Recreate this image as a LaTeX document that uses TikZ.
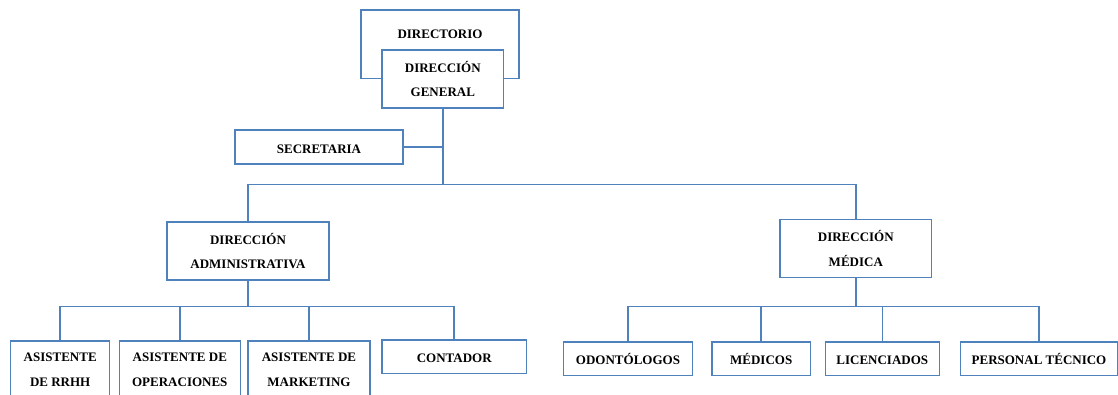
\documentclass[tikz,border=0pt]{standalone}
\usepackage{fontspec}
\setmainfont{Liberation Serif}
\definecolor{orgblue}{RGB}{79,129,189}
\begin{document}
\begin{tikzpicture}[x=1pt, y=-1pt,
  unit/.style={draw=orgblue, line width=1.5pt, fill=white, inner sep=0pt, align=center,
    font=\fontsize{13}{24.6}\selectfont\bfseries},
  oneline/.style={unit, text height=12.4pt, text depth=0pt},
  link/.style={draw=orgblue, line width=1.5pt}]
\useasboundingbox (0,0) rectangle (1118,394);
\node[unit, minimum width=158pt, text height=28.2pt, text depth=40.5pt] (board) at (440,44.3) {DIRECTORIO};
\node[unit, minimum width=121.7pt, minimum height=58pt] (general) at (442.8,79) {DIRECCIÓN\\GENERAL};
\node[oneline, minimum width=168pt, minimum height=34pt] (secretary) at (319,147) {SECRETARIA};
\node[unit, minimum width=162pt, minimum height=58pt] (admin) at (248,251) {DIRECCIÓN\\ADMINISTRATIVA};
\node[unit, minimum width=151.7pt, minimum height=58.4pt] (medical) at (855.8,248.5) {DIRECCIÓN\\MÉDICA};
\node[unit, minimum width=99pt, minimum height=58pt] (hr) at (60.2,370) {ASISTENTE\\DE RRHH};
\node[unit, minimum width=121pt, minimum height=58pt] (ops) at (179.8,370) {ASISTENTE DE\\OPERACIONES};
\node[unit, minimum width=122pt, minimum height=58pt] (mkt) at (309,370) {ASISTENTE DE\\MARKETING};
\node[oneline, minimum width=144.3pt, minimum height=33.3pt] (accountant) at (454.2,356.7) {CONTADOR};
\node[oneline, minimum width=129.4pt, minimum height=33.5pt] (dentists) at (628,358.5) {ODONTÓLOGOS};
\node[oneline, minimum width=98.3pt, minimum height=33.5pt] (doctors) at (761.2,358.5) {MÉDICOS};
\node[oneline, minimum width=114pt, minimum height=33.5pt] (graduates) at (882.3,358.5) {LICENCIADOS};
\node[oneline, minimum width=157.3pt, minimum height=33.5pt] (technical) at (1039,358.5) {PERSONAL TÉCNICO};
\coordinate (topbus) at (442.8,184.3);
\coordinate (adminbus) at (248,306.7);
\coordinate (medbus) at (855.8,306.7);
\draw[link] (general) -- (topbus);
\draw[link] (secretary.east) -- (secretary.east -| general.south);
\draw[link] (admin.north) |- (topbus) -| (medical.north);
\draw[link] (admin) -- (adminbus);
\draw[link] (medical) -- (medbus);
\foreach \n in {hr,ops,mkt,accountant}
  \draw[link] (\n.north) |- (adminbus);
\foreach \n in {dentists,doctors,graduates,technical}
  \draw[link] (\n.north) |- (medbus);
\end{tikzpicture}
\end{document}
